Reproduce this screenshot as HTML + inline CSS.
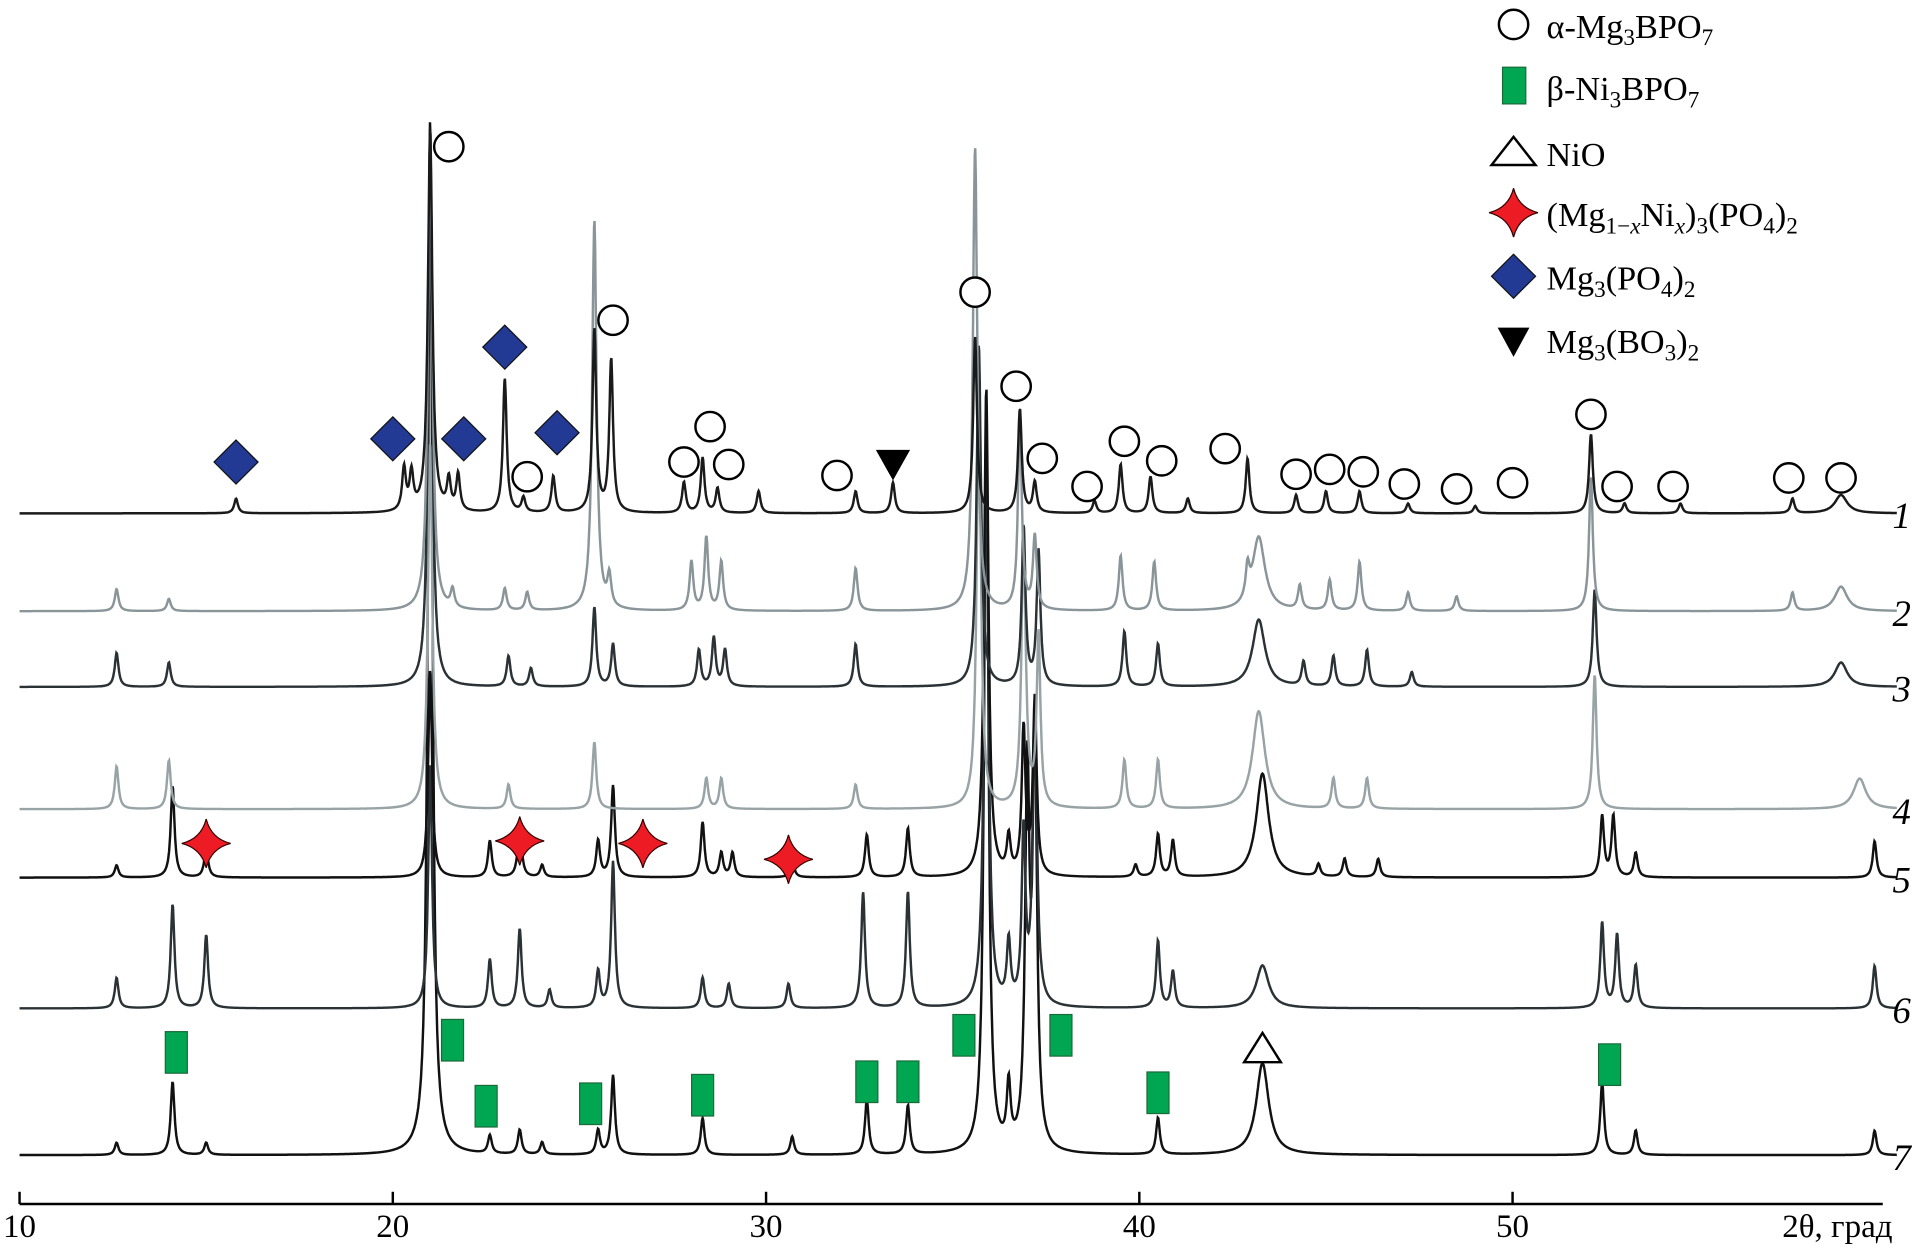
<!DOCTYPE html>
<html><head><meta charset="utf-8"><style>
html,body{margin:0;padding:0;background:#fff;}
svg{display:block;font-family:"Liberation Serif",serif;}
</style></head><body>
<svg id="chart" width="1917" height="1259" viewBox="0 0 1568 1030" preserveAspectRatio="none">
<g id="traces"></g>
<g id="markers"></g>
<g id="axis"></g>
<g id="legend">
 <circle cx="1238" cy="20" r="12" fill="#fff" stroke="#000" stroke-width="2"/>
 <text x="1265" y="31" font-size="28">α-Mg<tspan font-size="19" dy="6">3</tspan><tspan dy="-6">BPO</tspan><tspan font-size="19" dy="6">7</tspan></text>
 <rect x="1229" y="55" width="19" height="30" fill="#00a651" stroke="#1a6b3a" stroke-width="1"/>
 <text x="1265" y="82" font-size="28">β-Ni<tspan font-size="19" dy="6">3</tspan><tspan dy="-6">BPO</tspan><tspan font-size="19" dy="6">7</tspan></text>
 <polygon points="1238,112 1256,135 1220,135" fill="#fff" stroke="#000" stroke-width="2"/>
 <text x="1265" y="136" font-size="28">NiO</text>
 <path d="M1238,154 Q1242,170 1258,174 Q1242,178 1238,194 Q1234,178 1218,174 Q1234,170 1238,154Z" fill="#ed1c24" stroke="#300" stroke-width="1"/>
 <text x="1265" y="185" font-size="28">(Mg<tspan font-size="19" dy="6">1−<tspan font-style="italic">x</tspan></tspan><tspan dy="-6">Ni</tspan><tspan font-size="19" dy="6" font-style="italic">x</tspan><tspan dy="-6">)</tspan><tspan font-size="19" dy="6">3</tspan><tspan dy="-6">(PO</tspan><tspan font-size="19" dy="6">4</tspan><tspan dy="-6">)</tspan><tspan font-size="19" dy="6">2</tspan></text>
 <polygon points="1238,208 1256,226 1238,244 1220,226" fill="#233a94" stroke="#111" stroke-width="1"/>
 <text x="1265" y="237" font-size="28">Mg<tspan font-size="19" dy="6">3</tspan><tspan dy="-6">(PO</tspan><tspan font-size="19" dy="6">4</tspan><tspan dy="-6">)</tspan><tspan font-size="19" dy="6">2</tspan></text>
 <polygon points="1225,268 1251,268 1238,292" fill="#000"/>
 <text x="1265" y="289" font-size="28">Mg<tspan font-size="19" dy="6">3</tspan><tspan dy="-6">(BO</tspan><tspan font-size="19" dy="6">3</tspan><tspan dy="-6">)</tspan><tspan font-size="19" dy="6">2</tspan></text>
</g>
</svg>
<script>
// ---- data ----
const traceNames = ["1","2","3","4","5","6","7"];
const traceBaselines = [420, 500, 562, 662, 718, 825, 945];
const traceColors = ["#1a1a1a","#8a9599","#2a3236","#98a3a6","#111","#2a3236","#111"];
const peaks1 = [[15.8,12],[20.3,35],[20.5,30],[21.0,315],[21.5,25],[21.75,30],[23.0,110],[23.5,12],[24.3,30],[25.4,150],[25.85,125],[27.8,25],[28.3,45],[28.7,20],[29.8,18],[32.4,18],[33.4,25],[35.6,145],[36.8,85],[37.2,25],[38.8,10],[39.5,40],[40.3,30],[41.3,12],[42.9,45],[44.2,15],[45.0,18],[45.9,18],[47.2,8],[49.0,6],[52.1,65],[53.0,8],[54.5,8],[57.5,12],[58.8,15]];
const peaks2 = [[12.6,18],[14.0,10],[21.0,390],[21.6,15],[23.0,18],[23.6,15],[25.4,320],[25.8,25],[28.0,40],[28.4,60],[28.8,40],[32.4,35],[35.6,380],[36.8,160],[37.2,60],[39.5,45],[40.4,40],[42.9,25],[43.2,60],[44.3,20],[45.1,25],[45.9,40],[47.2,15],[48.5,12],[52.1,110],[57.5,15],[58.8,20]];
const peaks3 = [[12.6,28],[14.0,20],[21.0,400],[23.1,25],[23.7,15],[25.4,65],[25.9,35],[28.2,30],[28.6,40],[28.9,30],[32.4,35],[35.7,280],[36.9,130],[37.3,110],[39.6,45],[40.5,35],[43.2,55],[44.4,20],[45.2,25],[46.1,30],[47.3,12],[52.2,80],[58.8,20]];
const peaks4 = [[12.6,35],[14.0,40],[21.0,300],[23.1,20],[25.4,55],[28.4,25],[28.8,25],[32.4,20],[35.7,330],[36.9,220],[37.3,140],[39.6,40],[40.5,40],[43.2,80],[45.2,25],[46.1,25],[52.2,110],[59.3,25]];
const peaks5 = [[12.6,10],[14.1,75],[15.0,25],[21.0,170],[22.6,30],[23.4,45],[24.0,10],[25.5,30],[25.9,75],[28.3,45],[28.8,20],[29.1,20],[30.7,15],[32.7,35],[33.8,40],[35.9,400],[36.5,30],[36.9,120],[37.2,145],[39.9,10],[40.5,35],[40.9,30],[43.3,85],[44.8,10],[45.5,15],[46.4,15],[52.4,50],[52.7,50],[53.3,20],[59.7,30]];
const peaks6 = [[12.6,25],[14.1,85],[15.0,60],[21.0,200],[22.6,40],[23.4,65],[24.2,15],[25.5,30],[25.9,120],[28.3,25],[29.0,20],[30.6,20],[32.6,95],[33.8,95],[35.9,450],[36.5,50],[36.9,140],[37.2,240],[40.5,55],[40.9,30],[43.3,35],[52.4,70],[52.8,60],[53.3,35],[59.7,35]];
const peaks7 = [[12.6,10],[14.1,60],[15.0,10],[21.0,850],[22.6,15],[23.4,20],[24.0,10],[25.5,20],[25.9,65],[28.3,30],[30.7,15],[32.7,45],[33.8,40],[35.9,600],[36.5,50],[37.0,300],[37.2,330],[40.5,30],[43.3,75],[52.4,60],[53.3,20],[59.7,20]];
const allPeaks = [peaks1,peaks2,peaks3,peaks4,peaks5,peaks6,peaks7];
const broadPeaks = [43.2,43.3,58.8,59.3];
const tickValues = [10,20,30,40,50];
const circleMarks = [[21.5,120],[25.9,262],[23.6,390],[27.8,378],[28.5,349],[29.0,380],[31.9,389],[35.6,239],[36.7,316],[37.4,375],[38.6,398],[39.6,361],[40.6,377],[42.3,367],[44.2,388],[45.1,384],[46.0,386],[47.1,396],[48.5,400],[50.0,395],[52.1,339],[52.8,398],[54.3,398],[57.4,391],[58.8,391]];
const diamondMarks = [[15.8,378],[20.0,359],[21.9,359],[23.0,284],[24.4,354]];
const starMarks = [[15.0,690],[23.4,688],[26.7,690],[30.6,703]];
const rectMarks = [[14.2,861],[21.6,851],[22.5,905],[25.3,903],[28.3,896],[32.7,885],[33.8,885],[35.3,847],[37.9,847],[40.5,894],[52.6,871]];
const openTriMarks = [[43.3,858]];
const filledTriMarks = [[33.4,380]];

// ---- axis functions ----
const X0 = 16, PXPERDEG = 30.53;
function xs(v){ return X0 + (v-10)*PXPERDEG; }
const NS='http://www.w3.org/2000/svg';
function mk(tag, attrs, parent){ const e=document.createElementNS(NS,tag); for(const k in attrs) e.setAttribute(k,attrs[k]); parent.appendChild(e); return e; }

// ---- traces ----
const tg = document.getElementById('traces');
for (let t=allPeaks.length-1; t>=0; t--){
  const pk = allPeaks[t], base = traceBaselines[t];
  let d='';
  for (let v=10; v<=60.3; v+=0.015){
    let y=0;
    for (const [p,h] of pk){
      const w = broadPeaks.includes(p)?0.2:(h>200?0.07:0.06);
      y += h/(1+((v-p)/w)**2);
    }
    let py = Math.max(100, base - y);
    d += (d?'L':'M') + xs(v).toFixed(1)+','+py.toFixed(1);
  }
  const path = mk('path',{d:d,fill:'none',stroke:traceColors[t],'stroke-width':2},tg);
  
  
  const lbl = mk('text',{x:1548,y:base+12,'font-size':30,'font-style':'italic'},tg);
  lbl.textContent = traceNames[t];
  
  
}

// ---- markers ----
const mg = document.getElementById('markers');
for (const [v,y] of circleMarks){
  const c = mk('circle',{cx:xs(v),cy:y,r:12,fill:'#fff',stroke:'#000','stroke-width':2},mg);
  
  
}
for (const [v,y] of diamondMarks){
  const x=xs(v);
  const p = mk('polygon',{points:`${x},${y-18} ${x+18},${y} ${x},${y+18} ${x-18},${y}`,fill:'#233a94',stroke:'#111','stroke-width':1},mg);
  
  
}
for (const [v,y] of starMarks){
  const x=xs(v);
  const p = mk('path',{d:`M${x},${y-20} Q${x+4},${y-4} ${x+20},${y} Q${x+4},${y+4} ${x},${y+20} Q${x-4},${y+4} ${x-20},${y} Q${x-4},${y-4} ${x},${y-20}Z`,fill:'#ed1c24',stroke:'#300','stroke-width':1},mg);
  
  
}
for (const [v,y] of rectMarks){
  const r = mk('rect',{x:xs(v)-9,y:y-17,width:18,height:34,fill:'#00a651',stroke:'#1a6b3a','stroke-width':1},mg);
  
  
}
for (const [v,y] of openTriMarks){
  const x=xs(v);
  const p = mk('polygon',{points:`${x},${y-13} ${x+15},${y+11} ${x-15},${y+11}`,fill:'#fff',stroke:'#000','stroke-width':2},mg);
  
  
}
for (const [v,y] of filledTriMarks){
  const x=xs(v);
  const p = mk('polygon',{points:`${x-14},${y-12} ${x+14},${y-12} ${x},${y+13}`,fill:'#000'},mg);
  
  
}

// ---- axis ----
const ag = document.getElementById('axis');
const al = mk('line',{x1:16,y1:985,x2:1540,y2:985,stroke:'#000','stroke-width':2},ag);


for (const v of tickValues){
  const tk = mk('line',{x1:xs(v),y1:985,x2:xs(v),y2:975,stroke:'#000','stroke-width':2},ag);
  
  
  const tl = mk('text',{x:xs(v),y:1012,'font-size':27,'text-anchor':'middle'},ag);
  tl.textContent = String(v);
  
  
}
const at = mk('text',{x:1548,y:1012,'font-size':27,'text-anchor':'end'},ag);
at.textContent = '2θ, град';


</script>
</body></html>
